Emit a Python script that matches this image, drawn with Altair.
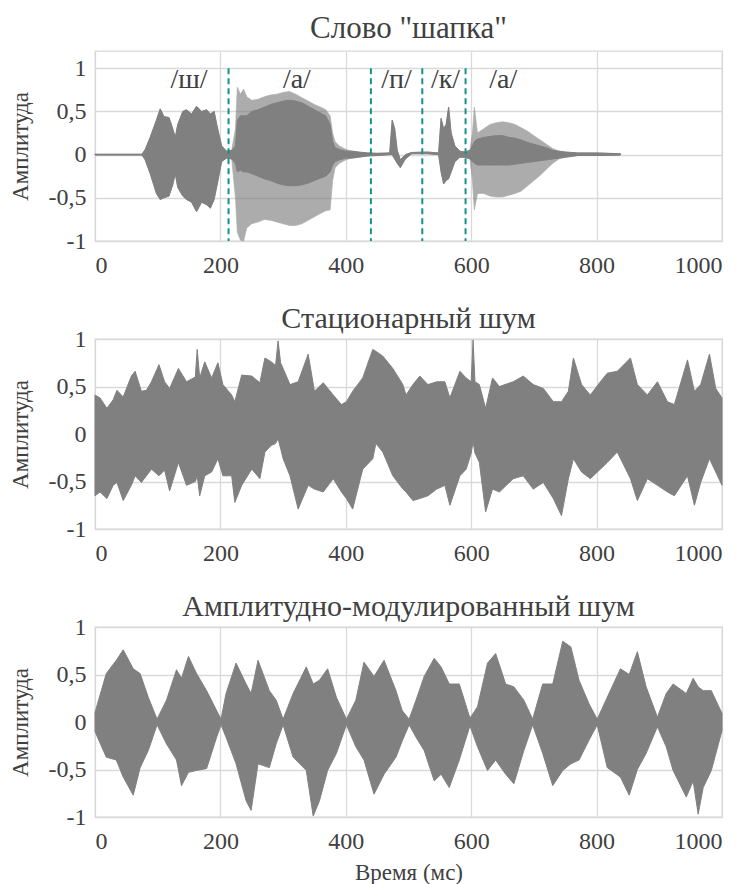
import altair as alt
import pandas as pd

FONT = "Liberation Serif"
GRAY = "#808080"
TEAL = "#12928e"
TXT = "#404040"
GRID = "#d9d9d9"

# ---------------- Panel 1: word "шапка" (envelope of the waveform) ----------------
t1 = [0, 75, 80, 88, 98, 104, 110, 118, 124, 128, 132, 140, 146, 154, 162, 170, 178, 184,
      190, 195, 202, 210, 218, 224, 227, 232, 237, 242, 250, 260, 270, 280, 290, 300, 310,
      320, 330, 340, 350, 360, 368, 375, 379, 383, 390, 400, 410, 420, 435, 450, 470, 474,
      478, 482, 487, 495, 505, 530, 548, 552, 556, 560, 564, 568, 574, 582, 590, 598, 602,
      605, 610, 620, 630, 640, 650, 660, 670, 680, 690, 700, 710, 720, 730, 740, 750, 770,
      800, 838]
# outer envelope (tips of the individual periods)
hi1 = [0.005, 0.005, 0.06, 0.2, 0.4, 0.53, 0.44, 0.43, 0.3, 0.2, 0.35, 0.5, 0.52, 0.47, 0.56,
       0.5, 0.52, 0.47, 0.5, 0.32, 0.1, 0.04, 0.05, 0.3, 0.78, 0.7, 0.76, 0.67, 0.63, 0.64,
       0.67, 0.69, 0.7, 0.72, 0.73, 0.7, 0.66, 0.62, 0.58, 0.55, 0.52, 0.45, 0.25, 0.15, 0.1,
       0.06, 0.04, 0.03, 0.02, 0.015, 0.02, 0.4, 0.3, 0.05, -0.06, 0.0, 0.025, 0.03, 0.02,
       0.42, 0.3, 0.35, 0.55, 0.25, 0.1, 0.04, 0.03, 0.05, 0.25, 0.55, 0.25, 0.3, 0.35, 0.37,
       0.38, 0.37, 0.35, 0.31, 0.27, 0.22, 0.17, 0.12, 0.07, 0.04, 0.03, 0.02, 0.02, 0.01]
lo1 = [-0.005, -0.005, -0.06, -0.22, -0.45, -0.52, -0.5, -0.48, -0.35, -0.22, -0.38, -0.48,
       -0.52, -0.55, -0.66, -0.55, -0.58, -0.62, -0.52, -0.34, -0.08, -0.04, -0.05, -0.5,
       -0.9, -0.99, -1.0, -0.85, -0.8, -0.78, -0.75, -0.76, -0.78, -0.8, -0.82, -0.82, -0.8,
       -0.76, -0.72, -0.68, -0.65, -0.64, -0.3, -0.15, -0.1, -0.06, -0.04, -0.03, -0.015,
       -0.01, 0.0, 0.0, -0.05, -0.1, -0.15, -0.05, 0.01, 0.01, 0.0, -0.2, -0.34, -0.3, -0.28,
       -0.2, -0.08, -0.03, -0.03, -0.05, -0.3, -0.64, -0.45, -0.45, -0.48, -0.49, -0.49,
       -0.47, -0.45, -0.42, -0.36, -0.3, -0.24, -0.17, -0.1, -0.05, -0.03, -0.01, -0.01,
       -0.005]
# dense core of the waveform (where the trace is solid)
hc1 = [0.005, 0.005, 0.06, 0.2, 0.4, 0.53, 0.44, 0.43, 0.3, 0.2, 0.35, 0.5, 0.52, 0.47, 0.56,
       0.5, 0.52, 0.47, 0.5, 0.32, 0.1, 0.04, 0.05, 0.1, 0.4, 0.45, 0.45, 0.45, 0.5, 0.52,
       0.55, 0.58, 0.6, 0.62, 0.63, 0.62, 0.6, 0.56, 0.52, 0.48, 0.45, 0.35, 0.15, 0.08, 0.06,
       0.04, 0.04, 0.03, 0.02, 0.015, 0.02, 0.4, 0.3, 0.05, -0.06, 0.0, 0.025, 0.03, 0.02,
       0.42, 0.3, 0.35, 0.55, 0.25, 0.1, 0.04, 0.03, 0.05, 0.1, 0.15, 0.18, 0.2, 0.21, 0.22,
       0.22, 0.2, 0.19, 0.17, 0.14, 0.12, 0.1, 0.08, 0.05, 0.04, 0.03, 0.02, 0.02, 0.01]
lc1 = [-0.005, -0.005, -0.06, -0.22, -0.45, -0.52, -0.5, -0.48, -0.35, -0.22, -0.38, -0.48,
       -0.52, -0.55, -0.66, -0.55, -0.58, -0.62, -0.52, -0.34, -0.08, -0.04, -0.05, -0.1,
       -0.2, -0.18, -0.2, -0.2, -0.22, -0.25, -0.28, -0.3, -0.33, -0.35, -0.36, -0.36, -0.35,
       -0.33, -0.3, -0.27, -0.25, -0.2, -0.12, -0.08, -0.06, -0.04, -0.04, -0.03, -0.015,
       -0.01, 0.0, 0.0, -0.05, -0.1, -0.15, -0.05, 0.01, 0.01, 0.0, -0.2, -0.34, -0.3, -0.28,
       -0.2, -0.08, -0.03, -0.03, -0.05, -0.08, -0.1, -0.12, -0.12, -0.12, -0.12, -0.12,
       -0.12, -0.11, -0.1, -0.09, -0.08, -0.07, -0.06, -0.05, -0.04, -0.03, -0.01, -0.01,
       -0.005]

phon_labels = ["/ш/", "/а/", "/п/", "/к/", "/а/"]
phon_t = [150, 322, 481, 559, 651]
phon_y = [0.86, 0.86, 0.86, 0.86, 0.86]
bounds_t = [213, 440, 522, 591]

# ---------------- Panel 2: stationary noise ----------------
t2 = [0, 8, 19, 29, 35, 45, 58, 64, 74, 82, 90, 102, 111, 119, 133, 146, 160, 163, 167, 175,
      186, 196, 204, 218, 223, 234, 250, 263, 271, 281, 288, 292, 296, 300, 311, 324, 340, 350,
      364, 380, 393, 401, 411, 427, 443, 448, 459, 475, 491, 496, 507, 518, 531, 545, 558, 566,
      582, 592, 600, 603, 606, 613, 623, 634, 645, 667, 683, 699, 715, 731, 744, 755, 763, 776,
      790, 806, 817, 833, 854, 865, 881, 897, 913, 924, 945, 956, 966, 980, 990, 1000]
hi2 = [0.41, 0.38, 0.27, 0.36, 0.46, 0.39, 0.61, 0.66, 0.45, 0.46, 0.55, 0.73, 0.55, 0.48,
       0.69, 0.55, 0.6, 0.89, 0.59, 0.76, 0.59, 0.75, 0.52, 0.41, 0.34, 0.62, 0.61, 0.54,
       0.8, 0.76, 0.72, 0.98, 0.75, 0.69, 0.52, 0.55, 0.84, 0.45, 0.54, 0.41, 0.31, 0.34,
       0.45, 0.59, 0.89, 0.87, 0.82, 0.69, 0.52, 0.41, 0.52, 0.61, 0.52, 0.55, 0.55, 0.38,
       0.66, 0.59, 0.55, 0.99, 0.55, 0.52, 0.27, 0.59, 0.5, 0.55, 0.61, 0.52, 0.48, 0.34,
       0.34, 0.45, 0.8, 0.52, 0.41, 0.55, 0.64, 0.66, 0.8, 0.52, 0.41, 0.55, 0.34, 0.31,
       0.78, 0.45, 0.52, 0.84, 0.48, 0.38]
lo2 = [-0.65, -0.61, -0.68, -0.54, -0.51, -0.7, -0.54, -0.44, -0.51, -0.44, -0.37, -0.44,
       -0.38, -0.6, -0.3, -0.54, -0.5, -0.44, -0.65, -0.44, -0.4, -0.26, -0.44, -0.44,
       -0.72, -0.54, -0.37, -0.47, -0.19, -0.12, -0.1, -0.05, -0.15, -0.26, -0.44, -0.79,
       -0.54, -0.58, -0.61, -0.47, -0.61, -0.68, -0.79, -0.37, -0.26, -0.1, -0.19, -0.44,
       -0.58, -0.61, -0.7, -0.68, -0.65, -0.58, -0.54, -0.75, -0.44, -0.37, -0.2, -0.08,
       -0.2, -0.3, -0.82, -0.58, -0.61, -0.47, -0.44, -0.58, -0.51, -0.68, -0.86, -0.47,
       -0.26, -0.4, -0.47, -0.37, -0.3, -0.19, -0.47, -0.7, -0.47, -0.54, -0.61, -0.65,
       -0.44, -0.75, -0.51, -0.26, -0.4, -0.54]

# ---------------- Panel 3: amplitude-modulated noise ----------------
t3 = [0, 18, 34, 45, 61, 72, 85, 99, 114, 130, 138, 149, 162, 178, 194, 201, 209, 225, 241,
      249, 260, 278, 289, 300, 316, 337, 348, 358, 371, 385, 401, 416, 429, 445, 461, 480,
      490, 501, 512, 525, 541, 552, 565, 581, 598, 610, 626, 639, 655, 668, 684, 698, 714,
      730, 746, 759, 772, 788, 801, 817, 838, 852, 865, 879, 897, 911, 922, 943, 954, 962,
      970, 983, 1000]
hi3 = [0.1, 0.51, 0.65, 0.76, 0.56, 0.51, 0.26, 0.03, 0.23, 0.55, 0.46, 0.69, 0.51, 0.33,
       0.12, 0.03, 0.3, 0.62, 0.4, 0.3, 0.65, 0.33, 0.23, 0.03, 0.3, 0.58, 0.4, 0.44, 0.56,
       0.26, 0.03, 0.23, 0.63, 0.48, 0.65, 0.33, 0.12, 0.03, 0.23, 0.48, 0.67, 0.58, 0.4,
       0.4, 0.04, 0.16, 0.62, 0.72, 0.4, 0.37, 0.23, 0.03, 0.4, 0.4, 0.85, 0.79, 0.44, 0.19,
       0.03, 0.26, 0.56, 0.5, 0.74, 0.37, 0.05, 0.3, 0.4, 0.3, 0.46, 0.37, 0.33, 0.33, 0.09]
lo3 = [-0.1, -0.37, -0.4, -0.58, -0.77, -0.48, -0.3, -0.03, -0.23, -0.4, -0.67, -0.53,
       -0.51, -0.49, -0.16, -0.03, -0.16, -0.44, -0.83, -0.93, -0.44, -0.48, -0.23, -0.03,
       -0.37, -0.51, -0.99, -0.83, -0.51, -0.33, -0.03, -0.26, -0.4, -0.76, -0.55, -0.37,
       -0.2, -0.03, -0.16, -0.3, -0.62, -0.55, -0.69, -0.4, -0.04, -0.26, -0.51, -0.4,
       -0.55, -0.65, -0.3, -0.03, -0.33, -0.67, -0.51, -0.44, -0.4, -0.19, -0.03, -0.48,
       -0.58, -0.77, -0.5, -0.33, -0.05, -0.26, -0.51, -0.79, -0.62, -0.97, -0.69, -0.51,
       -0.09]

x_ticks = [0, 200, 400, 600, 800, 1000]
y_ticks = [-1, -0.5, 0, 0.5, 1]

W, H = 627, 190


def axes(ymax, xtitle):
    xaxis = alt.Axis(values=x_ticks, format="d", labelPadding=12, title=xtitle,
                     titlePadding=8, labelFont=FONT, titleFont=FONT)
    yaxis = alt.Axis(values=y_ticks, labelPadding=9, titlePadding=16, title="Амплитуда",
                     labelFont=FONT, titleFont=FONT,
                     labelExpr="replace(toString(datum.value), '.', ',')")
    xs = alt.X("t:Q", scale=alt.Scale(domain=[0, 1000], nice=False, zero=False), axis=xaxis)
    ys = alt.Scale(domain=[-1, ymax], nice=False)
    return xs, ys, yaxis


def area(df, hi, lo, xs, ys, yaxis, opacity=1.0):
    return alt.Chart(df).mark_area(color=GRAY, stroke=GRAY, strokeWidth=1,
                                   interpolate="linear", opacity=opacity,
                                   strokeOpacity=opacity).encode(
        x=xs, y=alt.Y(hi + ":Q", scale=ys, axis=yaxis), y2=lo + ":Q")


# Panel 1
xs, ys, ya = axes(1.2, None)
df1 = pd.DataFrame({"t": t1, "hi": hi1, "lo": lo1, "hc": hc1, "lc": lc1})
outer1 = area(df1, "hi", "lo", xs, ys, ya, opacity=0.65)
core1 = area(df1, "hc", "lc", xs, ys, ya)
bdf = pd.DataFrame({"t": bounds_t, "top": [1.0] * len(bounds_t), "bot": [-1.0] * len(bounds_t)})
rules = alt.Chart(bdf).mark_rule(color=TEAL, strokeDash=[6, 4], strokeWidth=2).encode(
    x="t:Q", y="top:Q", y2="bot:Q")
pdf = pd.DataFrame({"t": phon_t, "y": phon_y, "lab": phon_labels})
texts = alt.Chart(pdf).mark_text(font=FONT, fontSize=28, color=TXT).encode(
    x="t:Q", y="y:Q", text="lab:N")
p1 = alt.layer(outer1, core1, rules, texts).properties(
    width=W, height=H, title=alt.TitleParams('Слово "шапка"', offset=6, fontSize=31))

# Panel 2
xs, ys, ya = axes(1.0, None)
df2 = pd.DataFrame({"t": t2, "hi": hi2, "lo": lo2})
p2 = area(df2, "hi", "lo", xs, ys, ya).properties(
    width=W, height=H, title=alt.TitleParams("Стационарный шум", offset=-7))

# Panel 3
xs, ys, ya = axes(1.0, "Время (мс)")
df3 = pd.DataFrame({"t": t3, "hi": hi3, "lo": lo3})
p3 = area(df3, "hi", "lo", xs, ys, ya).properties(
    width=W, height=H, title=alt.TitleParams("Амплитудно-модулированный шум", offset=-7))

chart = alt.vconcat(p1, p2, p3, spacing=25).properties(
    padding={"left": 8, "top": 12, "right": 0, "bottom": 0},
    background="white",
).configure_view(stroke=GRID, strokeWidth=1.3).configure_axis(
    grid=True, gridColor=GRID, gridWidth=1.3, domain=False, ticks=False,
    labelFont=FONT, labelFontSize=24, labelColor=TXT,
    titleFont=FONT, titleFontSize=23, titleFontWeight="normal", titleColor=TXT,
).configure_title(font=FONT, fontSize=30, fontWeight="normal", color=TXT, anchor="middle")

chart.save("out.html", embed_options={"renderer": "svg", "actions": False})
